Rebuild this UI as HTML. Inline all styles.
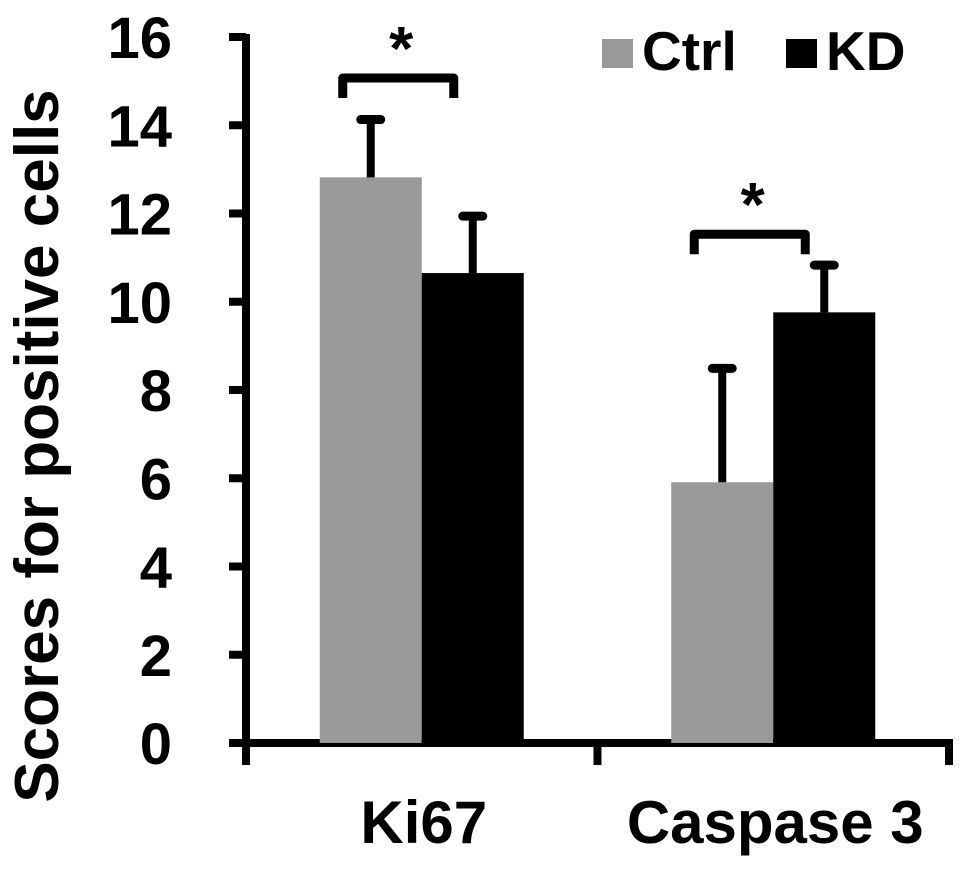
<!DOCTYPE html>
<html><head><meta charset="utf-8"><style>
body{margin:0;background:#fff}
svg text{font-family:"Liberation Sans",Arial,sans-serif;font-weight:bold;fill:#000}
</style></head><body>
<svg id="chart" width="969" height="868" viewBox="0 0 969 868" xmlns="http://www.w3.org/2000/svg">
</svg>
<script>
const categories = ["Ki67", "Caspase 3"];
const seriesNames = ["Ctrl", "KD"];
const ctrlValues = [12.82, 5.91];
const kdValues = [10.65, 9.76];
const ctrlErrors = [1.31, 2.58];
const kdErrors = [1.29, 1.07];
const yTicks = [0, 2, 4, 6, 8, 10, 12, 14, 16];
const sigBrackets = [{cat: 0, level: 15.07}, {cat: 1, level: 11.53}];

const NS = "http://www.w3.org/2000/svg";
const svg = document.getElementById("chart");
const X0 = 246, X1 = 949, Y0 = 743, Y16 = 37;
const y = v => Y0 - (v / 16) * (Y0 - Y16);
const catW = (X1 - X0) / categories.length;
const catCenter = i => X0 + catW * i + catW / 2;
const barW = 102;
function mk(tag, attrs) {
  const e = document.createElementNS(NS, tag);
  for (const k in attrs) e.setAttribute(k, attrs[k]);
  svg.appendChild(e);
  return e;
}
let e = mk("line", {x1: X0, y1: Y16 - 3, x2: X0, y2: Y0 + 22, stroke: "#000", "stroke-width": 8});


e = mk("line", {x1: X0 - 17, y1: Y0, x2: X1 + 4, y2: Y0, stroke: "#000", "stroke-width": 8});


for (let i = 0; i <= categories.length; i++) {
  const tx = X0 + catW * i;
  e = mk("line", {x1: tx, y1: Y0, x2: tx, y2: Y0 + 22, stroke: "#000", "stroke-width": 8});
  
  
}
yTicks.forEach(t => {
  e = mk("line", {x1: X0 - 17, y1: y(t), x2: X0, y2: y(t), stroke: "#000", "stroke-width": 8});
  
  
  e = mk("text", {x: 172, y: y(t) + 21, "text-anchor": "end", "font-size": 58});
  e.textContent = t;
  
  
});
e = mk("text", {x: 0, y: 0, "text-anchor": "middle", "font-size": 62, transform: "translate(58,446) rotate(-90)"});
e.textContent = "Scores for positive cells";


categories.forEach((c, i) => {
  e = mk("text", {x: catCenter(i) + 2, y: 843, "text-anchor": "middle", "font-size": 60});
  e.textContent = c;
  
  
});
const series = [[ctrlValues, ctrlErrors, "#999999"], [kdValues, kdErrors, "#000000"]];
categories.forEach((c, i) => {
  series.forEach((s, j) => {
    const bx = catCenter(i) - barW + j * barW;
    const v = s[0][i], er = s[1][i];
    e = mk("rect", {x: bx, y: y(v), width: barW, height: Y0 - y(v), fill: s[2]});
    
    
    const cx = bx + barW / 2;
    e = mk("line", {x1: cx, y1: y(v), x2: cx, y2: y(v + er), stroke: "#000", "stroke-width": 8});
    
    
    e = mk("line", {x1: cx - 10, y1: y(v + er), x2: cx + 10, y2: y(v + er), stroke: "#000", "stroke-width": 9, "stroke-linecap": "round"});
    
    
  });
});
sigBrackets.forEach(b => {
  const l = catCenter(b.cat) - 79, r = catCenter(b.cat) + 32, by = y(b.level);
  e = mk("path", {d: `M${l},${by + 20} V${by} H${r} V${by + 20}`, fill: "none", stroke: "#000", "stroke-width": 9, "stroke-linejoin": "round"});
  
  
  e = mk("text", {x: (l + r) / 2 + 3, y: by - 8, "text-anchor": "middle", "font-size": 62});
  e.textContent = "*";
  
  
});
const legX = [602, 786];
seriesNames.forEach((n, j) => {
  e = mk("rect", {x: legX[j], y: 39, width: 31, height: 29, fill: series[j][2]});
  
  
  e = mk("text", {x: legX[j] + 40, y: 70, "font-size": 55});
  e.textContent = n;
  
  
});
</script>
</body></html>
